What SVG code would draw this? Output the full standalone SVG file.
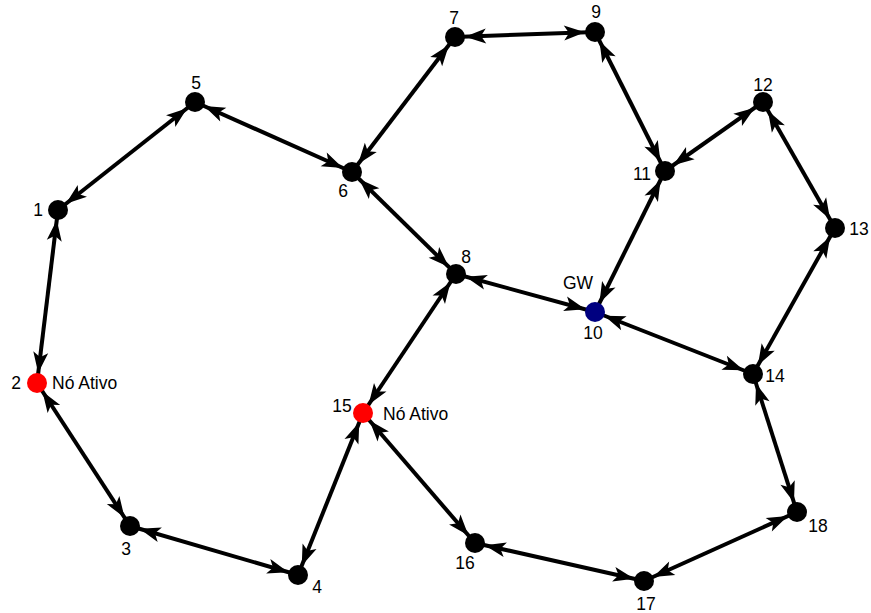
<svg xmlns="http://www.w3.org/2000/svg" width="871" height="613" viewBox="0 0 871 613">
<style>
.e{stroke:#000;stroke-width:4;fill:none;marker-start:url(#ah);marker-end:url(#ah)}
.n{fill:#000}
.red{fill:#ff0000}
.blue{fill:#000080}
text{font-family:"Liberation Sans",Arial,sans-serif;font-size:17.5px;fill:#000}
.m{text-anchor:middle}
</style>
<defs>
<marker id="ah" viewBox="-30 -10 44 20" refX="10" refY="0" markerWidth="44" markerHeight="20" markerUnits="userSpaceOnUse" orient="auto-start-reverse" style="overflow:visible">
<path d="M0,0 L-21,-7.5 L-16,0 L-21,7.5 Z" fill="#000"/>
</marker>
</defs>
<rect width="871" height="613" fill="#fff"/>
<g id="connectors">
<line class="e" x1="58" y1="210" x2="195" y2="102"/>
<line class="e" x1="58" y1="210" x2="37" y2="383"/>
<line class="e" x1="37" y1="383" x2="130" y2="526"/>
<line class="e" x1="130" y1="526" x2="298" y2="575"/>
<line class="e" x1="298" y1="575" x2="363" y2="413"/>
<line class="e" x1="363" y1="413" x2="456" y2="274"/>
<line class="e" x1="363" y1="413" x2="475" y2="543"/>
<line class="e" x1="475" y1="543" x2="644" y2="581"/>
<line class="e" x1="644" y1="581" x2="797" y2="512"/>
<line class="e" x1="797" y1="512" x2="753" y2="374"/>
<line class="e" x1="753" y1="374" x2="835" y2="228"/>
<line class="e" x1="835" y1="228" x2="763" y2="102"/>
<line class="e" x1="763" y1="102" x2="665" y2="171"/>
<line class="e" x1="665" y1="171" x2="595" y2="32"/>
<line class="e" x1="595" y1="32" x2="455" y2="37"/>
<line class="e" x1="455" y1="37" x2="352" y2="172"/>
<line class="e" x1="352" y1="172" x2="195" y2="102"/>
<line class="e" x1="352" y1="172" x2="456" y2="274"/>
<line class="e" x1="456" y1="274" x2="595" y2="312"/>
<line class="e" x1="595" y1="312" x2="753" y2="374"/>
<line class="e" x1="595" y1="312" x2="665" y2="171"/>
</g>
<g id="node1"><circle class="n" cx="58" cy="210" r="10"/><text class="m" x="38" y="216">1</text></g>
<g id="node2"><circle class="red" cx="37" cy="383" r="10"/><text class="m" x="16" y="389">2</text><text x="52" y="389">Nó Ativo</text></g>
<g id="node3"><circle class="n" cx="130" cy="526" r="10"/><text class="m" x="126" y="555">3</text></g>
<g id="node4"><circle class="n" cx="298" cy="575" r="10"/><text class="m" x="317" y="593">4</text></g>
<g id="node5"><circle class="n" cx="195" cy="102" r="10"/><text class="m" x="196" y="89">5</text></g>
<g id="node6"><circle class="n" cx="352" cy="172" r="10"/><text class="m" x="343" y="197">6</text></g>
<g id="node7"><circle class="n" cx="455" cy="37" r="10"/><text class="m" x="454" y="24">7</text></g>
<g id="node8"><circle class="n" cx="456" cy="274" r="10"/><text class="m" x="466" y="263">8</text></g>
<g id="node9"><circle class="n" cx="595" cy="32" r="10"/><text class="m" x="596" y="18">9</text></g>
<g id="node10"><circle class="blue" cx="595" cy="312" r="10"/><text class="m" x="578" y="289">GW</text><text class="m" x="593" y="339">10</text></g>
<g id="node11"><circle class="n" cx="665" cy="171" r="10"/><text class="m" x="642" y="180">11</text></g>
<g id="node12"><circle class="n" cx="763" cy="102" r="10"/><text class="m" x="763" y="91">12</text></g>
<g id="node13"><circle class="n" cx="835" cy="228" r="10"/><text class="m" x="859" y="235">13</text></g>
<g id="node14"><circle class="n" cx="753" cy="374" r="10"/><text class="m" x="775" y="382">14</text></g>
<g id="node15"><circle class="red" cx="363" cy="413" r="10"/><text class="m" x="342" y="412">15</text><text x="383" y="420">Nó Ativo</text></g>
<g id="node16"><circle class="n" cx="475" cy="543" r="10"/><text class="m" x="465" y="569">16</text></g>
<g id="node17"><circle class="n" cx="644" cy="581" r="10"/><text class="m" x="646" y="610">17</text></g>
<g id="node18"><circle class="n" cx="797" cy="512" r="10"/><text class="m" x="818" y="532">18</text></g>
</svg>
